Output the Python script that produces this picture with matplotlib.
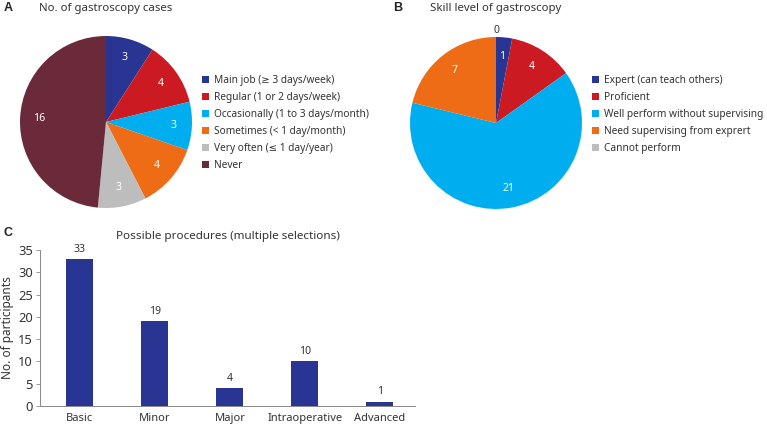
import matplotlib
matplotlib.use("Agg")
import matplotlib.pyplot as plt

plt.rcParams['font.family'] = ['Noto Sans', 'DejaVu Sans']

# Panel A data
cases_labels = ["Main job (\u2265 3 days/week)", "Regular (1 or 2 days/week)",
                "Occasionally (1 to 3 days/month)", "Sometimes (< 1 day/month)",
                "Very often (\u2264 1 day/year)", "Never"]
cases_values = [3, 4, 3, 4, 3, 16]
cases_colors = ["#283593", "#cc1a23", "#00aeef", "#ee6c16", "#bdbdbd", "#6a2a3a"]

# Panel B data
skill_labels = ["Expert (can teach others)", "Proficient", "Well perform without supervising",
                "Need supervising from exprert", "Cannot perform"]
skill_values = [1, 4, 21, 7, 0]
skill_colors = ["#283593", "#cc1a23", "#00aeef", "#ee6c16", "#bdbdbd"]

# Panel C data
proc_labels = ["Basic", "Minor", "Major", "Intraoperative", "Advanced"]
proc_values = [33, 19, 4, 10, 1]
bar_color = "#283593"

W, H = 767, 429
fig = plt.figure(figsize=(W / 100, H / 100), dpi=100)

def ax_px(x0, y0, w, h):
    return fig.add_axes([x0 / W, 1 - (y0 + h) / H, w / W, h / H])

TXT = "#333333"
PCTD = 0.78

def make_pie(ax, values, colors):
    vals = list(values)
    wedges, _, autotexts = ax.pie(values, colors=colors, startangle=90, counterclock=False,
                                  autopct=lambda p: "", pctdistance=PCTD,
                                  wedgeprops=dict(linewidth=0))
    for t, v in zip(autotexts, vals):
        t.set_text(str(v))
        t.set_color("white")
        t.set_fontsize(7.5)
        if v == 0:
            x, y = t.get_position()
            t.set_position((x / PCTD * 1.07, y / PCTD * 1.07))
            t.set_color(TXT)
    ax.set_xlim(-1, 1)
    ax.set_ylim(-1, 1)
    ax.set_aspect("equal")
    ax.axis("off")
    return wedges

LEG = dict(loc="upper left", frameon=False, fontsize=7.3, handlelength=0.7, handleheight=0.7,
           handletextpad=0.5, labelspacing=0.6, borderaxespad=0, labelcolor=TXT)

# Panel A
axA = ax_px(20, 36, 172, 172)
wA = make_pie(axA, cases_values, cases_colors)
fig.legend(wA, cases_labels, bbox_to_anchor=(198 / W, 1 - 71 / H), **LEG)

# Panel B
axB = ax_px(410, 37, 172, 172)
wB = make_pie(axB, skill_values, skill_colors)
fig.legend(wB, skill_labels, bbox_to_anchor=(588 / W, 1 - 71 / H), **LEG)

# Panel letters and titles
LET = dict(fontsize=9, fontweight="bold", color="#222222", va="center",
           family=["Liberation Sans", "DejaVu Sans"])
fig.text(4 / W, 1 - 8 / H, "A", **LET)
fig.text(39 / W, 1 - 8 / H, "No. of gastroscopy cases", fontsize=8.2, color=TXT, va="center")
fig.text(393 / W, 1 - 8 / H, "B", **LET)
fig.text(430 / W, 1 - 8 / H, "Skill level of gastroscopy", fontsize=8.2, color=TXT, va="center")
fig.text(4 / W, 1 - 233 / H, "C", **LET)

# Panel C
axC = ax_px(40, 250, 375, 156)
x = list(range(len(proc_labels)))
bars = axC.bar(x, proc_values, width=0.36, color=bar_color)
axC.bar_label(bars, labels=[str(v) for v in proc_values], padding=3, fontsize=7.5, color=TXT)
axC.set_xlim(-0.533, 4.467)
axC.set_ylim(0, 35)
axC.set_yticks(range(0, 36, 5))
axC.set_xticks(x)
axC.set_xticklabels(proc_labels)
axC.tick_params(axis="x", length=0, labelsize=8, colors=TXT, pad=5)
axC.tick_params(axis="y", length=3, labelsize=9.3, colors=TXT, pad=2, width=0.6)
axC.tick_params(axis="y", color="#888888")
for s in ["top", "right"]:
    axC.spines[s].set_visible(False)
for s in ["left", "bottom"]:
    axC.spines[s].set_color("#888888")
    axC.spines[s].set_linewidth(0.7)
axC.set_ylabel("No. of participants", fontsize=8.5, color=TXT, labelpad=3)
axC.set_title("Possible procedures (multiple selections)", fontsize=8.4, color=TXT, pad=8)

fig.savefig("out.png", dpi=100)
